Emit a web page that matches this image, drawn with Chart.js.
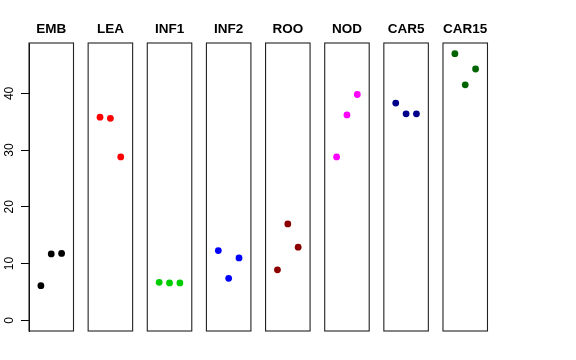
<!DOCTYPE html>
<html>
<head>
<meta charset="utf-8">
<script src="https://cdn.jsdelivr.net/npm/chart.js@4/dist/chart.umd.min.js"></script>
<style>
  html, body { margin: 0; padding: 0; background: #fff; }
  #wrap { position: relative; width: 576px; height: 360px; overflow: hidden; background: #fff; }
  #wrap canvas { position: absolute; top: 0; }
</style>
</head>
<body>
<div id="wrap"></div>
<script>
// ---- data ----
const categories = ['EMB', 'LEA', 'INF1', 'INF2', 'ROO', 'NOD', 'CAR5', 'CAR15'];
const xPositions = [1, 2, 3];
const embValues   = [6.1, 11.7, 11.8];
const leaValues   = [35.8, 35.6, 28.8];
const inf1Values  = [6.7, 6.6, 6.6];
const inf2Values  = [12.3, 7.4, 11.0];
const rooValues   = [8.9, 17.0, 12.9];
const nodValues   = [28.8, 36.2, 39.8];
const car5Values  = [38.3, 36.4, 36.4];
const car15Values = [47.0, 41.5, 44.3];
const seriesValues = [embValues, leaValues, inf1Values, inf2Values, rooValues, nodValues, car5Values, car15Values];
const seriesColors = ['#000000', '#FF0000', '#00CD00', '#0000FF', '#8B0000', '#FF00FF', '#00008B', '#006400'];
const yTicks = [0, 10, 20, 30, 40];
const yMin = -1.88, yMax = 48.88;
const xMin = -0.15, xMax = 4.15;

// ---- layout ----
const W = 576, H = 360;
const firstLeft = 29, step = 59.14, panelW = 44.5, sidePad = 8;
const areaTop = 43, areaBottom = 331;
const titleY = 29, titleSize = 13.5;
const wrap = document.getElementById('wrap');

const framePlugin = {
  id: 'frame',
  afterDatasetsDraw(chart) {
    const a = chart.chartArea, ctx = chart.ctx;
    ctx.save();
    ctx.strokeStyle = '#222';
    ctx.lineWidth = 1.1;
    ctx.strokeRect(a.left, a.top, a.right - a.left, a.bottom - a.top);
    ctx.restore();
  }
};

const panelTitlePlugin = {
  id: 'panelTitle',
  afterDraw(chart, args, opts) {
    const a = chart.chartArea, ctx = chart.ctx;
    ctx.save();
    ctx.fillStyle = '#000';
    ctx.font = 'bold ' + titleSize + 'px "Liberation Sans", Arial, sans-serif';
    ctx.textAlign = 'center';
    ctx.textBaseline = 'middle';
    ctx.fillText(opts.text, (a.left + a.right) / 2, titleY);
    ctx.restore();
  }
};

const yLabelPlugin = {
  id: 'ylabels',
  afterDraw(chart) {
    const s = chart.scales.y, ctx = chart.ctx;
    ctx.save();
    ctx.fillStyle = '#000';
    ctx.font = '12px "Liberation Sans", Arial, sans-serif';
    ctx.textAlign = 'center';
    ctx.textBaseline = 'middle';
    yTicks.forEach(v => {
      const y = s.getPixelForValue(v);
      ctx.save();
      ctx.translate(10, y);
      ctx.rotate(-Math.PI / 2);
      ctx.fillText(String(v), 0, 0);
      ctx.restore();
    });
    ctx.restore();
  }
};

categories.forEach((name, i) => {
  const areaLeft = firstLeft + i * step;
  const canvasLeft = i === 0 ? 0 : Math.round(areaLeft - sidePad);
  const canvasW = Math.ceil(areaLeft + panelW + sidePad - canvasLeft);
  const padLeft = i === 0 ? 0 : areaLeft - canvasLeft;
  const padRight = canvasW - (areaLeft + panelW - canvasLeft);
  const cv = document.createElement('canvas');
  cv.width = canvasW; cv.height = H;
  cv.style.left = canvasLeft + 'px';
  cv.style.width = canvasW + 'px';
  cv.style.height = H + 'px';
  wrap.appendChild(cv);

  const isFirst = i === 0;
  new Chart(cv, {
    type: 'scatter',
    data: {
      datasets: [{
        data: xPositions.map((x, j) => ({ x: x, y: seriesValues[i][j] })),
        pointRadius: 3.4,
        pointHoverRadius: 3.4,
        pointBackgroundColor: seriesColors[i],
        pointBorderWidth: 0,
        showLine: false
      }]
    },
    options: {
      responsive: false,
      animation: false,
      devicePixelRatio: 1,
      layout: { padding: { left: padLeft, right: padRight, top: areaTop, bottom: H - areaBottom } },
      plugins: {
        legend: { display: false },
        tooltip: { enabled: false },
        title: { display: false },
        panelTitle: { text: name }
      },
      scales: {
        x: { type: 'linear', min: xMin, max: xMax, display: false },
        y: {
          type: 'linear', min: yMin, max: yMax,
          display: isFirst,
          position: 'left',
          afterBuildTicks: s => { s.ticks = yTicks.map(v => ({ value: v })); },
          afterFit: s => { if (isFirst) s.width = firstLeft; },
          grid: { display: true, drawOnChartArea: false, drawTicks: true, tickLength: 8, color: '#000' },
          border: { display: true, color: '#000' },
          ticks: { display: false }
        }
      }
    },
    plugins: isFirst ? [framePlugin, panelTitlePlugin, yLabelPlugin] : [framePlugin, panelTitlePlugin]
  });
});
</script>
</body>
</html>
